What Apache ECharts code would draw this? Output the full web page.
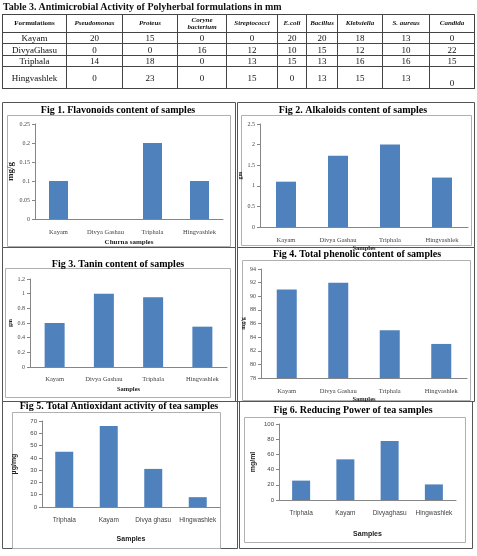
<!DOCTYPE html>
<html>
<head>
<meta charset="utf-8">
<script src="https://cdn.jsdelivr.net/npm/echarts@6/dist/echarts.min.js"></script>
<style>
    html, body { margin: 0; padding: 0; background: #fff; }
    #chart { position: absolute; left: 0; top: 0; width: 477px; height: 556px; }
    #tbl { position: absolute; left: 0; top: 0; width: 477px; z-index: 2; font-family: 'Liberation Serif', serif; color: #111; }
    .cap { position: absolute; left: 3px; top: 1px; font-weight: bold; font-size: 10px; line-height: 12px; white-space: nowrap; }
    table { position: absolute; left: 2px; top: 14px; border-collapse: collapse; table-layout: fixed; }
    td { border: 1px solid #444; padding: 0; text-align: center; font-size: 9px; line-height: 10px; overflow: hidden; }
    tr.head td { font-size: 7px; font-style: italic; font-weight: bold; line-height: 7px; }
    tr.head td.first { font-style: normal; }
</style>
</head>
<body>
<div id="tbl">
    <div class="cap">Table 3. Antimicrobial Activity of Polyherbal formulations in mm</div>
    <table id="t"></table>
</div>
<div id="chart"></div>
<script>
    // 表格数据
    const organisms = ['Pseudomonas', 'Proteus', 'Coryne<br>bacterium', 'Streptococci', 'E.coli', 'Bacillus', 'Klebsiella', 'S. aureus', 'Candida'];
    const formulations = ['Kayam', 'DivyaGhasu', 'Triphala', 'Hingvashlek'];
    const kayamZone = [20, 15, 0, 0, 20, 20, 18, 13, 0];
    const divyaZone = [0, 0, 16, 12, 10, 15, 12, 10, 22];
    const triphalaZone = [14, 18, 0, 13, 15, 13, 16, 16, 15];
    const hingZone = [0, 23, 0, 15, 0, 13, 15, 13, 0];

    // 图表数据
    const fig1Cats = ['Kayam', 'Divya Gashau', 'Triphala', 'Hingvashlek'];
    const fig1Vals = [0.1, 0, 0.2, 0.1];
    const fig2Cats = ['Kayam', 'Divya Gashau', 'Triphala', 'Hingvashlek'];
    const fig2Vals = [1.1, 1.73, 2.0, 1.2];
    const fig3Cats = ['Kayam', 'Divya Gashau', 'Triphala', 'Hingvashlek'];
    const fig3Vals = [0.6, 1.0, 0.95, 0.55];
    const fig4Cats = ['Kayam', 'Divya Gashau', 'Triphala', 'Hingvashlek'];
    const fig4Vals = [91, 92, 85, 83];
    const fig5Cats = ['Triphala', 'Kayam', 'Divya ghasu', 'Hingwashlek'];
    const fig5Vals = [45, 66, 31, 8];
    const fig6Cats = ['Triphala', 'Kayam', 'Divyaghasu', 'Hingwashlek'];
    const fig6Vals = [25.5, 53.5, 77.5, 20.5];

    // 构建表格
    const colW = [64, 56, 55, 49, 51, 29, 31, 45, 47, 45];
    const rowH = [18, 11, 12, 11, 22];
    const zones = [kayamZone, divyaZone, triphalaZone, hingZone];
    let html = '<colgroup>' + colW.map(w => '<col style="width:' + w + 'px">').join('') + '</colgroup>';
    html += '<tr class="head" style="height:' + rowH[0] + 'px"><td class="first">Formulations</td>' +
        organisms.map(o => '<td>' + o + '</td>').join('') + '</tr>';
    formulations.forEach((f, r) => {
        html += '<tr style="height:' + rowH[r + 1] + 'px"><td>' + f + '</td>';
        zones[r].forEach((v, c) => {
            let va = (r === 3 && c === 8) ? ' style="vertical-align:bottom"' : '';
            html += '<td' + va + '>' + v + '</td>';
        });
        html += '</tr>';
    });
    document.getElementById('t').innerHTML = html;

    const serif = 'Liberation Serif';
    const sans = 'Liberation Sans';
    const barColor = '#4f81bd';
    const axisColor = '#868686';

    // 每个图的位置
    const figs = [
        { cats: fig1Cats, vals: fig1Vals, min: 0, max: 0.25, step: 0.05, grid: [35, 124, 188, 95], bw: 19, font: serif,
          yName: 'mg/g', yGap: 17, ySize: 9, xName: 'Churna samples', xGap: 20, xSize: 7, labelGap: 10,
          title: 'Fig 1. Flavonoids content of samples', tx: 118, ty: 110,
          box: [2, 102, 233, 145], inner: [7, 115, 223, 131] },
        { cats: fig2Cats, vals: fig2Vals, min: 0, max: 2.5, step: 0.5, grid: [260, 124, 208, 103], bw: 20, font: serif,
          yName: 'gm', yGap: 11, ySize: 6, xName: 'Samples', xGap: 15, xSize: 6.5, labelGap: 10,
          title: 'Fig 2. Alkaloids content of samples', tx: 353, ty: 110,
          box: [237, 102, 237, 145], inner: [241, 115, 230, 130] },
        { cats: fig3Cats, vals: fig3Vals, min: 0, max: 1.2, step: 0.2, grid: [30, 279, 197, 88], bw: 20, font: serif,
          yName: 'gm', yGap: 16, ySize: 6, xName: 'Samples', xGap: 19, xSize: 6.5, labelGap: 9,
          title: 'Fig 3. Tanin content of samples', tx: 118, ty: 264,
          box: [2, 247, 233, 154], inner: [5, 268, 225, 129] },
        { cats: fig4Cats, vals: fig4Vals, min: 78, max: 94, step: 2, grid: [261, 269, 206, 109], bw: 20, font: serif,
          yName: 'mg/g', yGap: 14, ySize: 6, xName: 'Samples', xGap: 14, xSize: 6.5, labelGap: 10,
          title: 'Fig 4. Total phenolic content of samples', tx: 357, ty: 254,
          box: [237, 247, 237, 154], inner: [242, 260, 228, 140] },
        { cats: fig5Cats, vals: fig5Vals, min: 0, max: 70, step: 10, grid: [42, 421, 178, 86], bw: 18, font: sans,
          yName: 'µg/mg', yGap: 24, ySize: 7, xName: 'Samples', xGap: 29, xSize: 7, labelGap: 10,
          title: 'Fig 5. Total Antioxidant activity of tea samples', tx: 119, ty: 406,
          box: [2, 401, 235, 147], inner: [12, 412, 208, 136] },
        { cats: fig6Cats, vals: fig6Vals, min: 0, max: 100, step: 20, grid: [279, 424, 177, 76], bw: 18, font: sans,
          yName: 'mg/ml', yGap: 22, ySize: 7, xName: 'Samples', xGap: 31, xSize: 7, labelGap: 10,
          title: 'Fig 6. Reducing Power of tea samples', tx: 353, ty: 410,
          box: [239, 401, 233, 147], inner: [244, 417, 221, 125] }
    ];

    let option = {
        animation: false,
        grid: [], xAxis: [], yAxis: [], series: [], graphic: []
    };
    figs.forEach((f, i) => {
        let tickSize = f.font === sans ? 6 : 6;
        option.grid.push({ left: f.grid[0], top: f.grid[1], width: f.grid[2], height: f.grid[3] });
        option.xAxis.push({
            type: 'category', gridIndex: i, data: f.cats,
            name: f.xName, nameLocation: 'middle', nameGap: f.xGap,
            nameTextStyle: { fontFamily: f.font, fontWeight: 'bold', fontSize: f.xSize, color: '#222' },
            axisLine: { lineStyle: { color: axisColor } },
            axisTick: { length: 3, lineStyle: { color: axisColor } },
            axisLabel: { fontFamily: f.font, fontSize: 6.5, color: '#444', margin: f.labelGap, interval: 0 }
        });
        option.yAxis.push({
            type: 'value', gridIndex: i, min: f.min, max: f.max, interval: f.step,
            name: f.yName, nameLocation: 'middle', nameGap: f.yGap, nameRotate: 90,
            nameTextStyle: { fontFamily: f.font, fontWeight: 'bold', fontSize: f.ySize, color: '#222' },
            axisLine: { show: true, lineStyle: { color: axisColor } },
            axisTick: { show: true, length: 3, lineStyle: { color: axisColor } },
            splitLine: { show: false },
            axisLabel: { fontFamily: f.font, fontSize: tickSize, color: '#444', margin: 5 }
        });
        option.series.push({
            type: 'bar', xAxisIndex: i, yAxisIndex: i, data: f.vals, barWidth: f.bw,
            itemStyle: { color: barColor }
        });
        // 外框和内框
        option.graphic.push({
            type: 'rect', silent: true,
            shape: { x: f.box[0] + 0.5, y: f.box[1] + 0.5, width: f.box[2], height: f.box[3] },
            style: { fill: 'none', stroke: '#555', lineWidth: 1 }
        });
        option.graphic.push({
            type: 'rect', silent: true,
            shape: { x: f.inner[0] + 0.5, y: f.inner[1] + 0.5, width: f.inner[2], height: f.inner[3] },
            style: { fill: 'none', stroke: '#b0b0b0', lineWidth: 1 }
        });
        option.graphic.push({
            type: 'text', silent: true, x: f.tx, y: f.ty,
            style: {
                text: f.title, fill: '#000', align: 'center', verticalAlign: 'middle',
                font: 'bold 10px "Liberation Serif"'
            }
        });
    });

    let myChart = echarts.init(document.getElementById('chart'));
    myChart.setOption(option);
</script>
</body>
</html>
